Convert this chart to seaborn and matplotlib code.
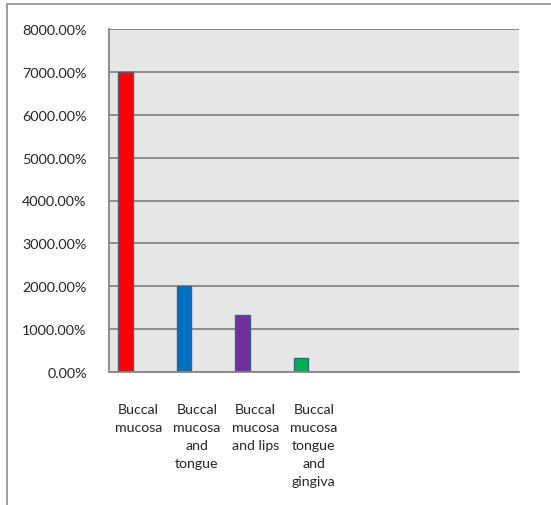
import numpy as np
import matplotlib.pyplot as plt
import pandas as pd
import seaborn as sns
from matplotlib.patches import Rectangle
from matplotlib.ticker import FuncFormatter, MultipleLocator

# data (percent values as Excel displayed them)
sites = ['Buccal\nmucosa', 'Buccal\nmucosa\nand\ntongue', 'Buccal\nmucosa\nand lips',
         'Buccal\nmucosa\ntongue\nand\ngingiva']
percent = [7000.0, 2000.0, 1333.33, 333.33]
bar_colors = ['#FF0000', '#0070C0', '#7030A0', '#00B050']
n_slots = 7  # the axis has 7 category slots, only 4 used

df = pd.DataFrame({'site': sites, 'percent': percent})

sns.set_style('white')
plt.rcParams['font.family'] = ['Lato', 'DejaVu Sans']

fig = plt.figure(figsize=(5.51, 5.06), dpi=100)
ax = fig.add_axes([109 / 551, 1 - 373 / 506, 410 / 551, 343 / 506])
ax.set_facecolor('#E6E6E6')

sns.barplot(data=df, x='site', y='percent', hue='site', palette=bar_colors,
            order=sites, width=0.25, saturation=1, edgecolor='#3F5F8A', linewidth=1.0,
            legend=False, ax=ax)

# Excel placed the bars left of the slot centre
for p in ax.patches:
    p.set_x(p.get_x() - 0.22)

ax.set_xlim(-0.5, n_slots - 0.5)
ax.set_ylim(0, 8000)
ax.yaxis.set_major_locator(MultipleLocator(1000))
ax.yaxis.set_major_formatter(FuncFormatter(lambda v, _: f'{v:.2f}%'))
ax.grid(axis='y', color='#868686', linewidth=1.3)
ax.set_axisbelow(True)

ax.set_xticks(range(len(sites)))
ax.set_xticklabels(sites, fontsize=10.2, linespacing=1.6, va='top',
                   multialignment='center')
ax.set_xticks(np.arange(-0.5, n_slots), minor=True)
ax.tick_params(axis='x', which='major', length=0, pad=22)
ax.tick_params(axis='x', which='minor', length=5, width=1.3, color='#868686', direction='out')
ax.tick_params(axis='y', length=5, width=1.3, color='#868686', direction='out',
               labelsize=10.4, pad=11)
ax.set_xlabel('')
ax.set_ylabel('')

for side in ['top', 'right']:
    ax.spines[side].set_visible(False)
for side in ['left', 'bottom']:
    ax.spines[side].set_color('#868686')
    ax.spines[side].set_linewidth(1.3)

# outer chart border
fig.patches.append(Rectangle((7 / 551, -0.1), 1.2, 1.1 - 5 / 506, transform=fig.transFigure,
                             fill=False, edgecolor='#8C8C8C', linewidth=1.2))

fig.savefig('out.png', dpi=100)
